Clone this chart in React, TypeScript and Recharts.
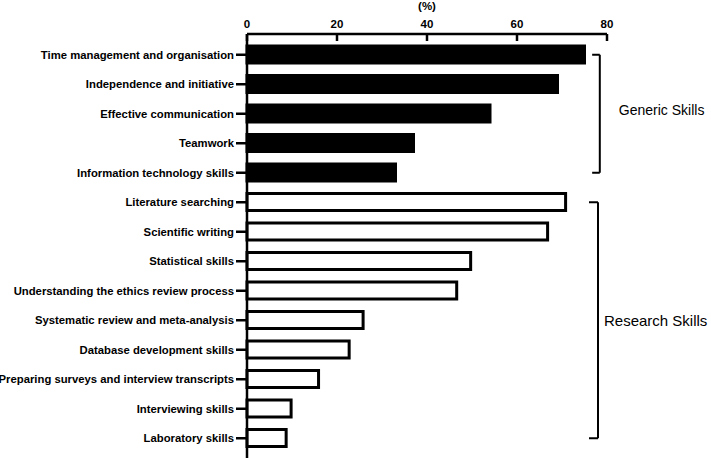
import React from 'react';
import { BarChart, Bar, XAxis, YAxis, Cell, ReferenceLine } from 'recharts';

const categories = [
  'Time management and organisation',
  'Independence and initiative',
  'Effective communication',
  'Teamwork',
  'Information technology skills',
  'Literature searching',
  'Scientific writing',
  'Statistical skills',
  'Understanding the ethics review process',
  'Systematic review and meta-analysis',
  'Database development skills',
  'Preparing surveys and interview transcripts',
  'Interviewing skills',
  'Laboratory skills',
];
const values = [75, 69, 54, 37, 33, 70.8, 66.8, 49.7, 46.6, 25.8, 22.7, 15.9, 9.8, 8.7];
const groups = ['Generic', 'Generic', 'Generic', 'Generic', 'Generic', 'Research', 'Research', 'Research', 'Research', 'Research', 'Research', 'Research', 'Research', 'Research'];
const xTicks = [0, 20, 40, 60, 80];
const axisTitle = '(%)';
const groupNames = ['Generic Skills', 'Research Skills'];

const data = categories.map((c, i) => ({ name: c, value: values[i], group: groups[i] }));

const FONT = '"Liberation Sans", Arial, Helvetica, sans-serif';

const XTick = (props: any) => {
  const { x, y, payload } = props;
  return (
    <g>
      <text x={x} y={y} textAnchor="middle" fontFamily={FONT} fontWeight="bold" fontSize={11.5} fill="#000">
        {payload.value}
      </text>
      <line x1={x} x2={x} y1={y + 6} y2={y + 13} stroke="#000" strokeWidth={2.5} />
    </g>
  );
};

const YTick = (props: any) => {
  const { x, y, payload } = props;
  return (
    <text x={x} y={y} textAnchor="end" dominantBaseline="central" fontFamily={FONT} fontWeight="bold" fontSize={11.3} fill="#000">
      {payload.value}
    </text>
  );
};

const makeLabel = (text: string, dx: number, dy: number, size: number) => (props: any) => {
  const vb = props.viewBox || {};
  const x = vb.x ?? Math.min(vb.x1, vb.x2);
  const y = vb.y ?? Math.min(vb.y1, vb.y2);
  const h = vb.height ?? Math.abs(vb.y2 - vb.y1);
  return (
    <text x={x + dx} y={y + h / 2 + dy} dominantBaseline="central" fontFamily={FONT} fontSize={size} fill="#000">
      {text}
    </text>
  );
};

const brackets = [
  { from: 0, to: 4, armStart: 76.7, line: 78.4, label: groupNames[0], dx: 19, dy: -4, size: 14 },
  { from: 5, to: 13, armStart: 76.0, line: 78.0, label: groupNames[1], dx: 6, dy: 0, size: 15 },
];

export default function App() {
  return (
    <div style={{ position: 'absolute', left: 0, top: 0, background: '#fff' }}>
      <BarChart
        width={711}
        height={458}
        data={data}
        layout="vertical"
        margin={{ top: 0, right: 104, bottom: 0, left: 0 }}
        barSize={17}
      >
        <XAxis
          type="number"
          orientation="top"
          domain={[0, 80]}
          ticks={xTicks}
          height={34}
          tickSize={0}
          tickMargin={6}
          tickLine={false}
          tick={<XTick />}
          axisLine={{ stroke: '#000', strokeWidth: 2.5 }}
          label={{ value: axisTitle, position: 'insideTop', offset: 2, fontFamily: FONT, fontWeight: 'bold', fontSize: 11.5, fill: '#000' }}
        />
        <YAxis
          type="category"
          dataKey="name"
          width={247}
          interval={0}
          padding={{ top: 6, bottom: 5 }}
          tickSize={11}
          tickMargin={2}
          tick={<YTick />}
          tickLine={{ stroke: '#000', strokeWidth: 2.5 }}
          axisLine={{ stroke: '#000', strokeWidth: 2.5 }}
        />
        <Bar dataKey="value" isAnimationActive={false} stroke="#000" strokeWidth={3}>
          {data.map((d, i) => (
            <Cell key={i} fill={d.group === 'Generic' ? '#000' : '#fff'} />
          ))}
        </Bar>
        {brackets.map((b, i) => (
          <ReferenceLine
            key={'t' + i}
            segment={[{ x: b.armStart, y: categories[b.from] }, { x: b.line, y: categories[b.from] }]}
            stroke="#000"
            strokeWidth={2}
            ifOverflow="visible"
          />
        ))}
        {brackets.map((b, i) => (
          <ReferenceLine
            key={'v' + i}
            segment={[{ x: b.line, y: categories[b.from] }, { x: b.line, y: categories[b.to] }]}
            stroke="#000"
            strokeWidth={2}
            ifOverflow="visible"
            label={makeLabel(b.label, b.dx, b.dy, b.size)}
          />
        ))}
        {brackets.map((b, i) => (
          <ReferenceLine
            key={'b' + i}
            segment={[{ x: b.armStart, y: categories[b.to] }, { x: b.line, y: categories[b.to] }]}
            stroke="#000"
            strokeWidth={2}
            ifOverflow="visible"
          />
        ))}
      </BarChart>
    </div>
  );
}
